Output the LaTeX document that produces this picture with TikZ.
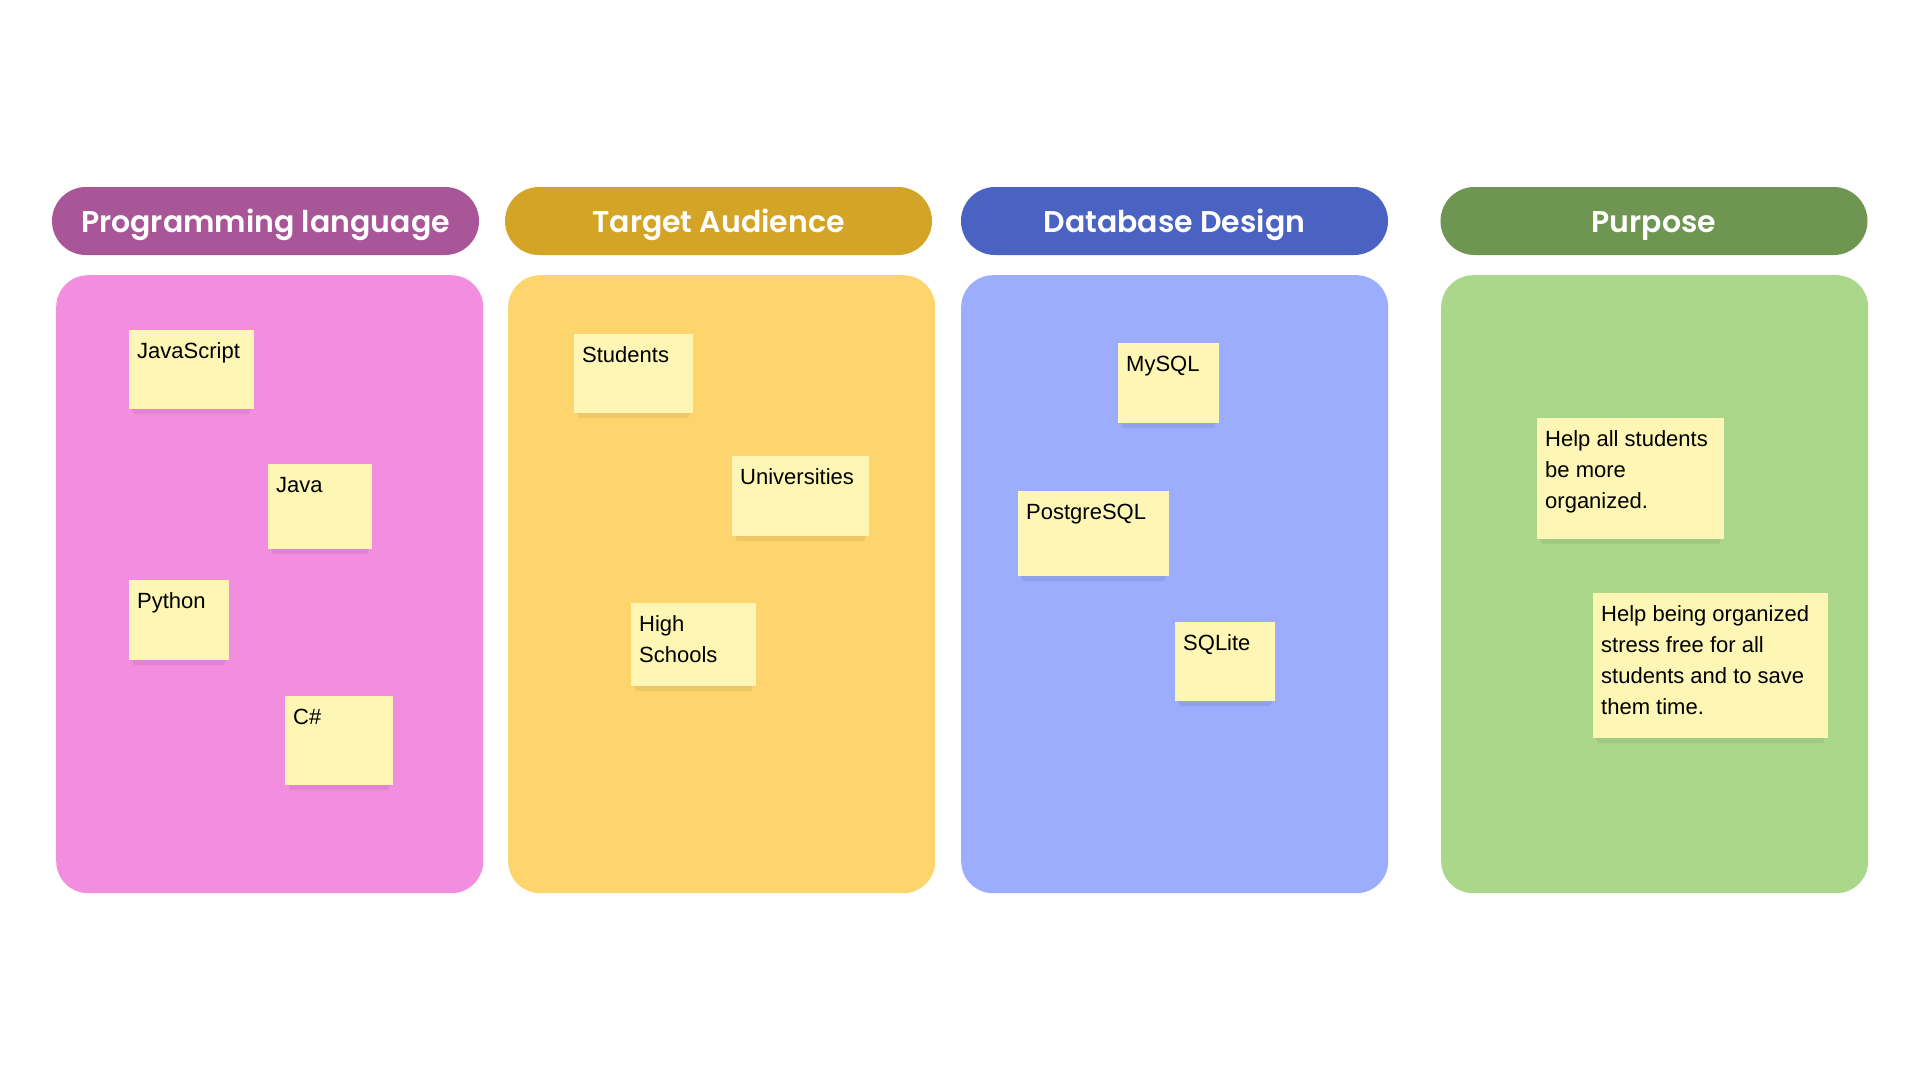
\documentclass[tikz,border=0pt]{standalone}
\usepackage{fontspec}
\setmainfont{Liberation Sans}
\newfontfamily\headfont{Poppins SemiBold}
\usetikzlibrary{positioning}

\definecolor{plHead}{HTML}{A85698}
\definecolor{plBody}{HTML}{F28DE0}
\definecolor{taHead}{HTML}{D4A427}
\definecolor{taBody}{HTML}{FDD56C}
\definecolor{dbHead}{HTML}{4A62C1}
\definecolor{dbBody}{HTML}{9BADFC}
\definecolor{puHead}{HTML}{6F9553}
\definecolor{puBody}{HTML}{ABD78A}
\definecolor{noteFill}{HTML}{FDF6B4}

\tikzset{
  headpill/.style={fill=#1, draw=none, rounded corners=34pt, inner sep=0pt,
    minimum height=68pt, minimum width=427pt, text=white,
    text height=22.6pt, text depth=0pt,
    font=\headfont\fontsize{30}{30}\selectfont},
  panelbox/.style={fill=#1, draw=none, rounded corners=32pt, inner sep=0pt,
    minimum width=427pt, minimum height=618pt, anchor=north west},
  sticky/.style={fill=noteFill, draw=none, inner sep=0pt, anchor=north west},
  notetext/.style={inner sep=0pt, anchor=base west,
    font=\fontsize{22}{31}\selectfont},
  noteshade/.style={fill=black, opacity=0.06}
}

% sticky note: name, left, top, right, bottom, text
\newcommand\stickynote[6]{%
  \fill[noteshade] (#2+3,#5) -- (#4-3,#5) -- (#4-5,#5+5) -- (#2+5,#5+5) -- cycle;
  \node[sticky, minimum width={(#4-#2)*1pt}, minimum height={(#5-#3)*1pt}]
    (#1) at (#2,#3) {};
  \node[notetext] (#1-t) at ([shift={(8,28.5)}]#1.north west)
    {\begin{tabular}[t]{@{}l@{}}#6\end{tabular}};
}

\begin{document}
\begin{tikzpicture}[x=1pt, y=-1pt]
  \useasboundingbox[fill=white] (0,0) rectangle (1920,1080);

  % column headers
  \node[headpill=plHead] (h1) at (265.5,221) {Programming language};
  \node[headpill=taHead] (h2) at (718.5,221) {Target Audience};
  \node[headpill=dbHead] (h3) at (1174.5,221) {Database Design};
  \node[headpill=puHead] (h4) at (1654,221) {Purpose};

  % column panels
  \node[panelbox=plBody] (p1) at (56,275) {};
  \node[panelbox=taBody] (p2) at (508,275) {};
  \node[panelbox=dbBody] (p3) at (961,275) {};
  \node[panelbox=puBody] (p4) at (1441,275) {};

  % programming languages
  \stickynote{js}{129}{330}{254}{409}{JavaScript}
  \stickynote{java}{268}{464}{372}{549}{Java}
  \stickynote{py}{129}{580}{229}{660}{Python}
  \stickynote{cs}{285}{696}{393}{785}{C\#}

  % audience
  \stickynote{stud}{574}{334}{693}{413}{Students}
  \stickynote{univ}{732}{456}{869}{536}{Universities}
  \stickynote{high}{631}{603}{756}{686}{High\\Schools}

  % databases
  \stickynote{mysql}{1118}{343}{1219}{423}{MySQL}
  \stickynote{pg}{1018}{491}{1169}{576}{PostgreSQL}
  \stickynote{sqlite}{1175}{622}{1275}{701}{SQLite}

  % purpose
  \stickynote{goalA}{1537}{418}{1724}{539}{Help all students\\be more\\organized.}
  \stickynote{goalB}{1593}{593}{1828}{738}{Help being organized\\stress free for all\\students and to save\\them time.}
\end{tikzpicture}
\end{document}
